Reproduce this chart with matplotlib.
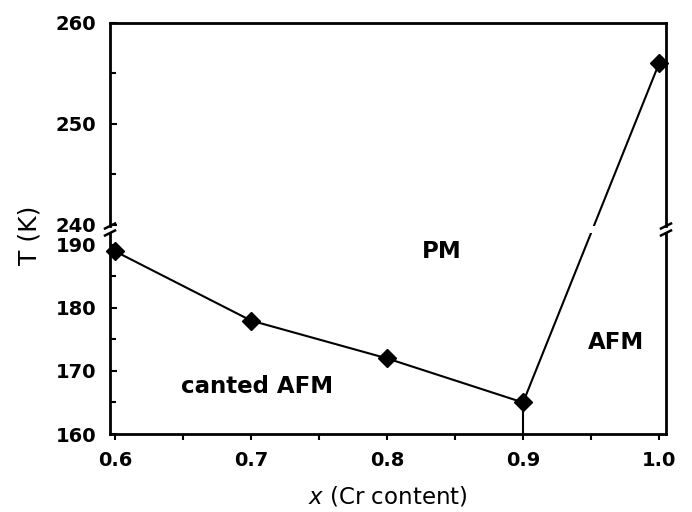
import numpy as np
import matplotlib.pyplot as plt
from matplotlib.ticker import MultipleLocator

# Cr content vs transition temperature
x_cr = [0.6, 0.7, 0.8, 0.9, 1.0]
t_k = [189, 178, 172, 165, 256]
x_lo = x_cr[:4]
t_lo = t_k[:4]
x_hi = x_cr[4:]
t_hi = t_k[4:]

plt.rcParams['font.family'] = 'DejaVu Sans'
plt.rcParams['mathtext.fontset'] = 'dejavusans'

fig = plt.figure(figsize=(6.92, 5.12), dpi=100)
W, H = 692, 512
left, right = 110, 666
ax_hi = fig.add_axes([left / W, 1 - 226 / H, (right - left) / W, (226 - 23) / H])
ax_lo = fig.add_axes([left / W, 1 - 434 / H, (right - left) / W, (434 - 233) / H])

for ax in (ax_hi, ax_lo):
    ax.set_xlim(0.5963, 1.0051)
    for sp in ax.spines.values():
        sp.set_linewidth(2.0)
    ax.tick_params(axis='y', which='both', direction='in', pad=10,
                   labelsize=14, width=1.5, right=False)
    ax.tick_params(axis='y', which='major', length=5)
    ax.tick_params(axis='y', which='minor', length=4)

ax_hi.set_ylim(239.9, 260)
ax_hi.yaxis.set_major_locator(MultipleLocator(10))
ax_hi.yaxis.set_minor_locator(MultipleLocator(5))
ax_hi.spines['bottom'].set_visible(False)
ax_hi.tick_params(axis='x', which='both', bottom=False, top=False, labelbottom=False)

ax_lo.set_ylim(160, 191.9)
ax_lo.yaxis.set_major_locator(MultipleLocator(10))
ax_lo.yaxis.set_minor_locator(MultipleLocator(5))
ax_lo.spines['top'].set_visible(False)
ax_lo.xaxis.set_minor_locator(MultipleLocator(0.05))
ax_lo.tick_params(axis='x', which='both', direction='out', length=4, width=1.5,
                  top=False, labelsize=14, pad=8)
ax_lo.set_xticks([0.6, 0.7, 0.8, 0.9, 1.0])
ax_lo.set_xticklabels(['0.6', '0.7', '0.8', '0.9', '1.0'], fontweight='bold')
for ax in (ax_hi, ax_lo):
    for lab in ax.get_yticklabels():
        lab.set_fontweight('bold')

# data in lower and upper panels
ax_lo.plot(x_lo, t_lo, color='black', lw=1.5, marker='D', ms=9, clip_on=False, zorder=5)
ax_hi.plot(x_hi, t_hi, color='black', lw=0, marker='D', ms=9, clip_on=False, zorder=5)
ax_lo.plot([x_cr[3], x_cr[3]], [160, t_k[3]], color='black', lw=1.5)

# segment across the break, straight in figure space
inv = fig.transFigure.inverted()
p0 = inv.transform(ax_lo.transData.transform((x_cr[3], t_k[3])))
p1 = inv.transform(ax_hi.transData.transform((x_cr[4], t_k[4])))
for ax in (ax_hi, ax_lo):
    ax.plot([p0[0], p1[0]], [p0[1], p1[1]], color='black', lw=1.5,
            transform=fig.transFigure)

# break marks
dx = 5 / 556
kw = dict(color='black', lw=1.8, clip_on=False)
for xx in (0, 1):
    ax_hi.plot([xx - dx, xx + dx], [-0.0123, 0.0123], transform=ax_hi.transAxes, **kw)
    ax_lo.plot([xx - dx, xx + dx], [1 - 0.0124, 1 + 0.0124], transform=ax_lo.transAxes, **kw)

# phase labels
ax_lo.text(0.8404, 189.0, 'PM', fontsize=16.5, fontweight='bold', ha='center', va='center')
ax_lo.text(0.7044, 167.5, 'canted AFM', fontsize=16.5, fontweight='bold', ha='center', va='center')
ax_lo.text(0.9684, 174.6, 'AFM', fontsize=16.5, fontweight='bold', ha='center', va='center')

fig.text(30 / W, 1 - 235 / H, 'T (K)', rotation=90, fontsize=18, ha='center', va='center')
fig.text(388 / W, 1 - 497 / H, r'$x$ (Cr content)', fontsize=16.5, ha='center', va='center')

fig.savefig('out.png', dpi=100)
